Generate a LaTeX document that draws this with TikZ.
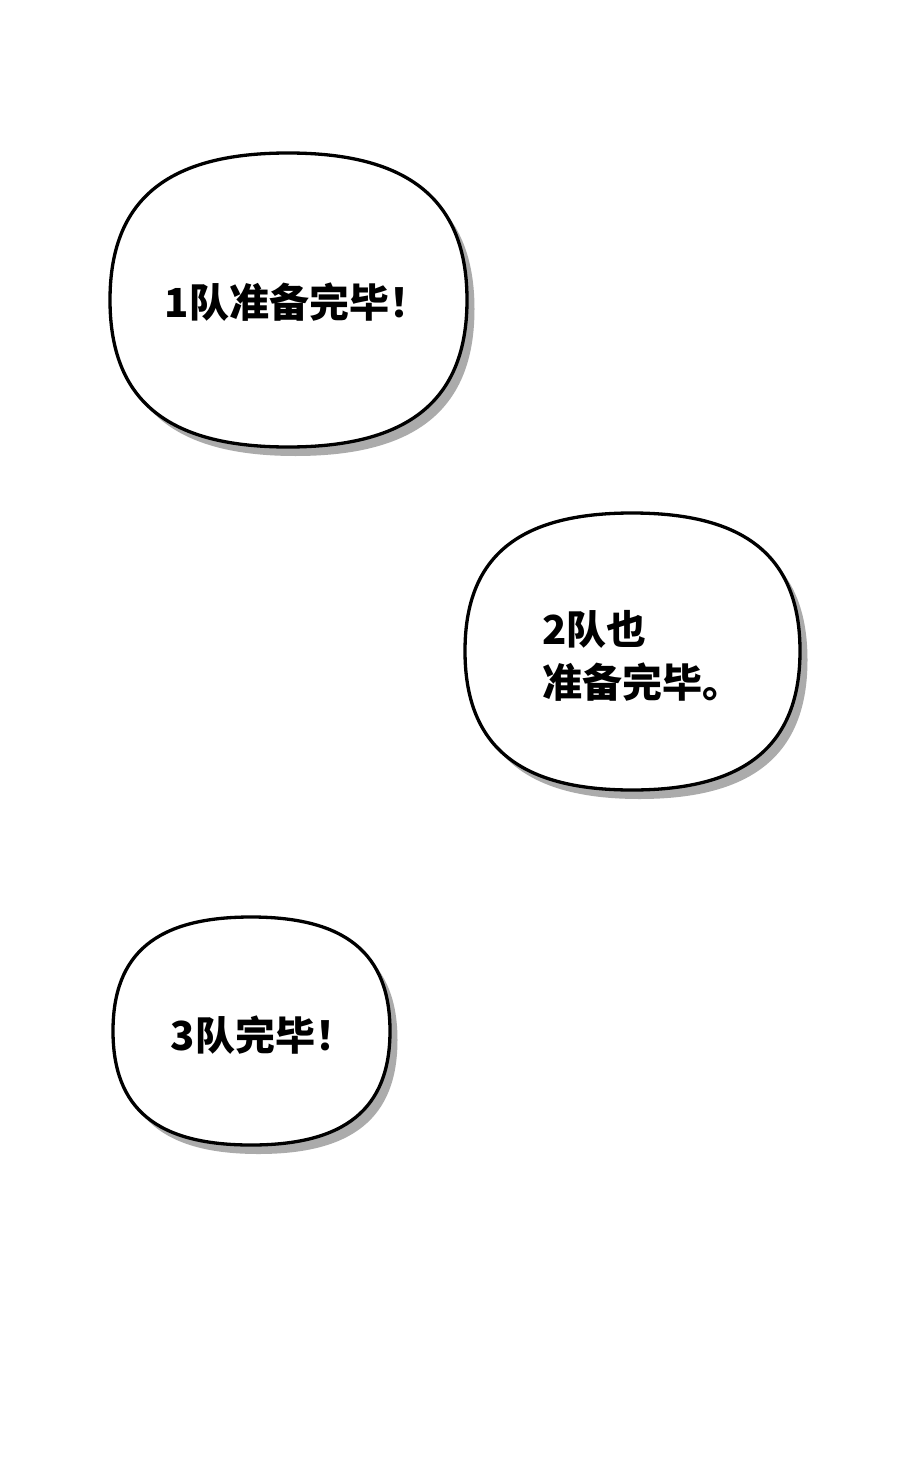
\documentclass[tikz,border=0pt]{standalone}
\usepackage{fontspec}
\newfontfamily\cjk{Noto Sans CJK SC}
\usetikzlibrary{shadows}

\begin{document}
\begin{tikzpicture}[x=1pt, y=-1pt,
    balloon/.style={draw, line width=3.3pt, fill=white,
      drop shadow={shadow xshift=7.5pt, shadow yshift=-9pt, fill=black!33, opacity=1}},
    words/.style={font=\cjk\bfseries\fontsize{40}{53}\selectfont, inner sep=0pt}]
    \fill[white] (0,0) rectangle (900,1477);
    \useasboundingbox (0,0) rectangle (900,1477);

    % balloon of team 1 (top left)
    \draw[balloon] (288,153) .. controls (409,153) and (467,200) .. (467,300)
        .. controls (467,400) and (409,447) .. (288,447)
        .. controls (167,447) and (110,400) .. (110,300)
        .. controls (110,200) and (167,153) .. cycle;
    \node[words] (team1) at (297,302) {1队准备完毕！};

    % balloon of team 2 (middle right), two lines set flush left
    \draw[balloon] (632,513) .. controls (746,513) and (800,557) .. (800,651)
        .. controls (800,745) and (746,790) .. (632,790)
        .. controls (518,790) and (465,745) .. (465,651)
        .. controls (465,557) and (518,513) .. cycle;
    \node[words, align=left, anchor=west] (team2) at (542,656) {2队也\\准备完毕。};

    % balloon of team 3 (bottom left)
    \draw[balloon] (251,917) .. controls (345,917) and (390,953) .. (390,1031)
        .. controls (390,1109) and (345,1145) .. (251,1145)
        .. controls (157,1145) and (113,1109) .. (113,1031)
        .. controls (113,953) and (157,917) .. cycle;
    \node[words] (team3) at (263,1035) {3队完毕！};
\end{tikzpicture}
\end{document}
